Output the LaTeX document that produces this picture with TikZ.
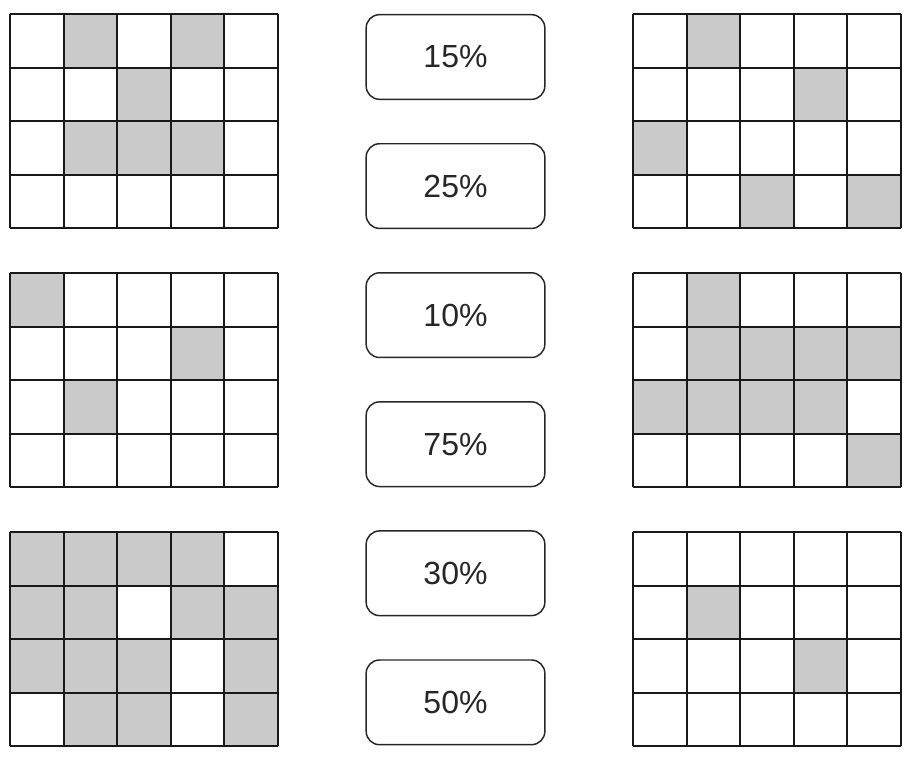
\documentclass[tikz,border=0pt]{standalone}
\usepackage{fontspec}
\setmainfont{Liberation Sans}
\usetikzlibrary{positioning}
\definecolor{cellgray}{RGB}{202,202,202}

\begin{document}
\begin{tikzpicture}[x=0.75pt,y=-0.75pt,node distance=32.2pt,
 every node/.style={font=\fontsize{24}{28}\selectfont,text=black!85},
 pct/.style={draw=black!85,line width=1.1pt,rounded corners=10pt,minimum width=134pt,minimum height=63.5pt},
 cell/.style={fill=cellgray},
 gridline/.style={line width=1.6pt,black!90}]
\useasboundingbox (0,0) rectangle (913,761);
% grids: origin x/y, then shaded cells as col/row
\foreach \gx/\gy/\cells in {10/14/{1/0,3/0,2/1,1/2,2/2,3/2},
  633/14/{1/0,3/1,0/2,2/3,4/3},
  10/273/{0/0,3/1,1/2},
  633/273/{1/0,1/1,2/1,3/1,4/1,0/2,1/2,2/2,3/2,4/3},
  10/532/{0/0,1/0,2/0,3/0,0/1,1/1,3/1,4/1,0/2,1/2,2/2,4/2,1/3,2/3,4/3},
  633/532/{1/1,3/2}}{
  \foreach \c/\r in \cells
    \fill[cell] (\gx+\c*53.6,\gy+\r*53.6) rectangle ++(53.6,53.6);
  \foreach \i in {0,...,5}
    \draw[gridline] (\gx+\i*53.6,\gy) -- ++(0,214.4);
  \foreach \j in {0,...,4}
    \draw[gridline] (\gx,\gy+\j*53.6) -- ++(268,0);
}
\node[pct] (p15) at (455.5,57) {15\%};
\node[pct,below=of p15] (p25) {25\%};
\node[pct,below=of p25] (p10) {10\%};
\node[pct,below=of p10] (p75) {75\%};
\node[pct,below=of p75] (p30) {30\%};
\node[pct,below=of p30] (p50) {50\%};
\end{tikzpicture}
\end{document}
